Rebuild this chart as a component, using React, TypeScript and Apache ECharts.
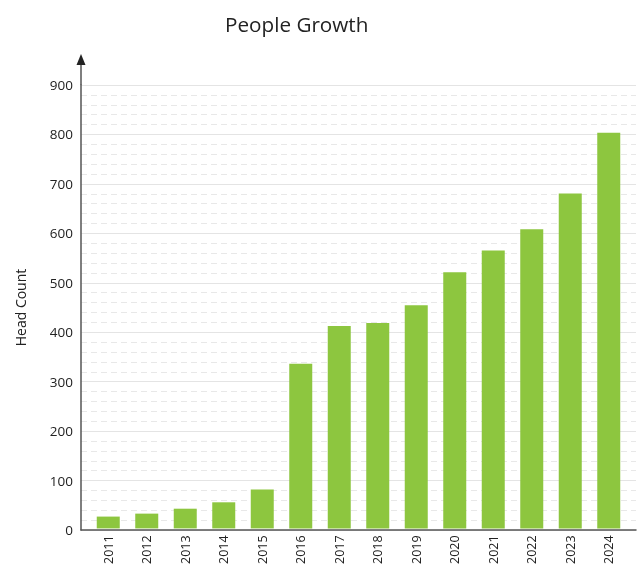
import React, { useEffect, useRef } from "react";
import * as echarts from "echarts";

const categories = ["2011","2012","2013","2014","2015","2016","2017","2018","2019","2020","2021","2022","2023","2024"];
const headCount = [24, 30, 40, 53, 79, 334, 411, 417, 453, 520, 564, 607, 680, 803];
const yTicks = { min: 0, max: 900, interval: 100 };

export default function App() {
  const ref = useRef<HTMLDivElement>(null);
  useEffect(() => {
    if (!ref.current) return;
    const chart = echarts.init(ref.current, null, { renderer: "svg" });
    const font = "'Open Sans', 'Noto Sans', sans-serif";
    chart.setOption({
      animation: false,
      title: {
        text: "People Growth",
        left: 220,
        top: 8,
        textStyle: { fontFamily: font, fontSize: 20.7, fontWeight: "normal", color: "#222" },
      },
      grid: [
        { left: 81, right: 7, top: 85, bottom: 37, containLabel: false },
        { left: 89, right: 15, top: 85, bottom: 37, containLabel: false },
      ],
      xAxis: [
        {
          type: "value",
          gridIndex: 0,
          min: 0,
          max: 1,
          axisLine: { show: true, onZero: false, lineStyle: { color: "#555", width: 1.5 } },
          axisTick: { show: false },
          axisLabel: { show: false },
          splitLine: { show: false },
        },
        {
          type: "category",
          gridIndex: 1,
          data: categories,
          axisLine: { show: false },
          axisTick: { show: false },
          axisLabel: { rotate: 90, fontFamily: font, fontSize: 12.5, color: "#222", margin: 7 },
        },
      ],
      yAxis: [
        {
          type: "value",
          gridIndex: 0,
          min: yTicks.min,
          max: yTicks.max,
          interval: yTicks.interval,
          name: "Head Count",
          nameLocation: "middle",
          nameGap: 54,
          nameTextStyle: { fontFamily: font, fontSize: 14, color: "#222" },
          axisLine: { show: true, lineStyle: { color: "#555", width: 1.5 } },
          axisTick: { show: false },
          axisLabel: { fontFamily: font, fontSize: 13.5, color: "#222", margin: 8 },
          splitLine: { show: true, lineStyle: { color: "#e4e4e4", width: 1.2 } },
          minorTick: { show: false, splitNumber: 5 },
          minorSplitLine: { show: true, lineStyle: { color: "#e8e8e8", type: [6, 4], width: 1 } },
        },
        {
          type: "value",
          gridIndex: 1,
          min: yTicks.min,
          max: yTicks.max,
          interval: yTicks.interval,
          show: false,
        },
      ],
      series: [
        {
          type: "bar",
          xAxisIndex: 1,
          yAxisIndex: 1,
          data: headCount,
          barWidth: 23,
          itemStyle: { color: "#8dc63f" },
        },
      ],
    });
    const top = chart.convertToPixel({ gridIndex: 0 } as any, [0, yTicks.max]) as number[];
    const axisX = 81;
    chart.setOption({
      graphic: [
        {
          type: "line",
          shape: { x1: axisX, y1: top[1], x2: axisX, y2: top[1] - 24 },
          style: { stroke: "#555", lineWidth: 1.5 },
          z: 10,
        },
        {
          type: "polygon",
          shape: { points: [[axisX, top[1] - 31], [axisX - 4.5, top[1] - 20], [axisX + 4.5, top[1] - 20]] },
          style: { fill: "#222" },
          z: 10,
        },
      ],
    });
    return () => chart.dispose();
  }, []);
  return <div ref={ref} style={{ position: "fixed", left: 0, top: 0, width: 643, height: 567 }} />;
}
